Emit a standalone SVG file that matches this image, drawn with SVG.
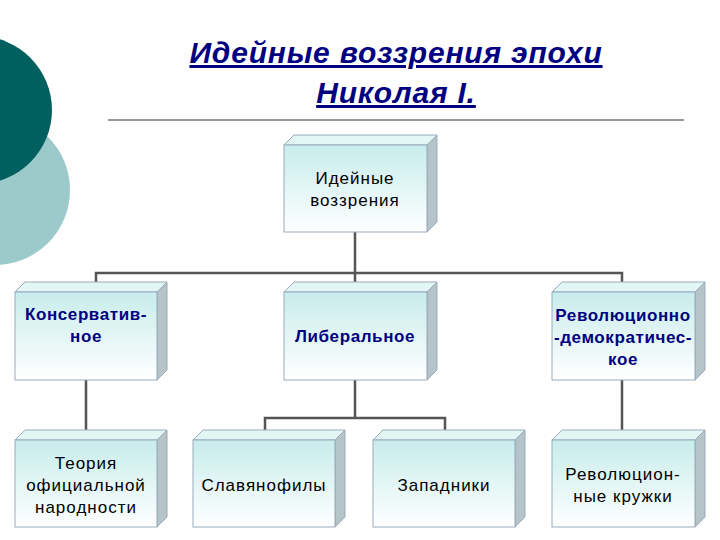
<svg xmlns="http://www.w3.org/2000/svg" width="720" height="540" viewBox="0 0 720 540">
<defs>
<linearGradient id="g" x1="0" y1="0" x2="0" y2="1"><stop offset="0" stop-color="#c8ecec"/><stop offset="1" stop-color="#ffffff"/></linearGradient>
<style>
.f{fill:url(#g);stroke:#9ab;stroke-width:1}
.t{fill:#e2f6f6;stroke:#9ab;stroke-width:1}
.s{fill:#b4c4c8;stroke:#9ab;stroke-width:1}
.c{fill:none;stroke:#555;stroke-width:2.5}
text{font-family:"Liberation Sans",Arial,sans-serif;font-size:17px;letter-spacing:1px;text-anchor:middle}
.b{fill:#000080;font-weight:bold;letter-spacing:0.6px}
.k{fill:#000}
.h{font-size:30px;font-weight:bold;font-style:italic;text-decoration:underline;fill:#000080;letter-spacing:0.8px}
</style>
</defs>
<rect width="720" height="540" fill="#fff"/>
<circle cx="-5" cy="190" r="75" fill="#9ccaca"/>
<circle cx="-22" cy="110" r="74" fill="#006060"/>
<text class="h" x="396" y="63">Идейные воззрения эпохи</text>
<text class="h" x="396" y="103">Николая I.</text>
<line x1="108" y1="120" x2="684" y2="120" stroke="#333" stroke-width="1"/>
<g id="connectors">
<path class="c" d="M355 232V273M96 292V273H622V292M355 273V292"/>
<path class="c" d="M86 380V418M86 418V440"/>
<path class="c" d="M355 380V418M265 440V418H445V440"/>
<path class="c" d="M622 380V440"/>
</g>
<g id="n0"><polygon class="t" points="284,145 294,135 437,135 427,145"/><polygon class="s" points="427,145 437,135 437,222 427,232"/><rect class="f" x="284" y="145" width="143" height="87"/><text class="k" x="355" y="184">Идейные</text><text class="k" x="355" y="206">воззрения</text></g>
<g id="n1"><polygon class="t" points="15,292 25,282 167,282 157,292"/><polygon class="s" points="157,292 167,282 167,370 157,380"/><rect class="f" x="15" y="292" width="142" height="88"/><text class="b" x="86" y="320">Консерватив-</text><text class="b" x="86" y="342">ное</text></g>
<g id="n2"><polygon class="t" points="284,292 294,282 437,282 427,292"/><polygon class="s" points="427,292 437,282 437,370 427,380"/><rect class="f" x="284" y="292" width="143" height="88"/><text class="b" x="355" y="342">Либеральное</text></g>
<g id="n3"><polygon class="t" points="552,292 562,282 705,282 695,292"/><polygon class="s" points="695,292 705,282 705,370 695,380"/><rect class="f" x="552" y="292" width="143" height="88"/><text class="b" x="623" y="321">Революционно</text><text class="b" x="623" y="343">-демократичес-</text><text class="b" x="623" y="365">кое</text></g>
<g id="n4"><polygon class="t" points="15,440 25,430 167,430 157,440"/><polygon class="s" points="157,440 167,430 167,517 157,527"/><rect class="f" x="15" y="440" width="142" height="87"/><text class="k" x="86" y="469">Теория</text><text class="k" x="86" y="491">официальной</text><text class="k" x="86" y="513">народности</text></g>
<g id="n5"><polygon class="t" points="193,440 203,430 345,430 335,440"/><polygon class="s" points="335,440 345,430 345,517 335,527"/><rect class="f" x="193" y="440" width="142" height="87"/><text class="k" x="264" y="491">Славянофилы</text></g>
<g id="n6"><polygon class="t" points="373,440 383,430 525,430 515,440"/><polygon class="s" points="515,440 525,430 525,517 515,527"/><rect class="f" x="373" y="440" width="142" height="87"/><text class="k" x="444" y="491">Западники</text></g>
<g id="n7"><polygon class="t" points="552,440 562,430 705,430 695,440"/><polygon class="s" points="695,440 705,430 705,517 695,527"/><rect class="f" x="552" y="440" width="143" height="87"/><text class="k" x="623" y="480">Революцион-</text><text class="k" x="623" y="502">ные кружки</text></g>
</svg>
